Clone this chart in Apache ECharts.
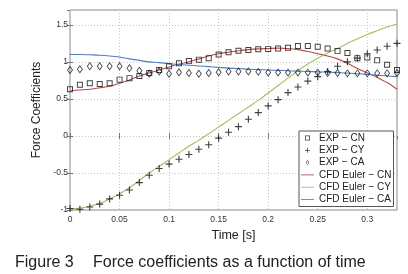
<!DOCTYPE html>
<html>
<head>
<meta charset="utf-8">
<script src="https://cdn.jsdelivr.net/npm/echarts@6/dist/echarts.min.js"></script>
<style>
  html, body { margin: 0; padding: 0; background: #fff; }
  #chart { width: 408px; height: 274px; }
</style>
</head>
<body>
<div id="chart"></div>
<script>
const time = [0, 0.01, 0.02, 0.03, 0.04, 0.05, 0.06, 0.07, 0.08, 0.09,
  0.10, 0.11, 0.12, 0.13, 0.14, 0.15, 0.16, 0.17, 0.18, 0.19,
  0.20, 0.21, 0.22, 0.23, 0.24, 0.25, 0.26, 0.27, 0.28, 0.29,
  0.30, 0.31, 0.32, 0.33];

// experiment
const expCN = [0.63, 0.69, 0.71, 0.70, 0.71, 0.76, 0.78, 0.81, 0.85, 0.89,
  0.94, 0.98, 1.01, 1.03, 1.05, 1.10, 1.13, 1.15, 1.16, 1.17,
  1.175, 1.18, 1.19, 1.215, 1.215, 1.205, 1.18, 1.145, 1.12, 1.05,
  1.06, 1.02, 0.96, 0.89];
const expCY = [-0.98, -0.99, -0.96, -0.92, -0.85, -0.80, -0.73, -0.63, -0.53, -0.44,
  -0.38, -0.315, -0.25, -0.18, -0.12, -0.03, 0.05, 0.125, 0.225, 0.315,
  0.405, 0.49, 0.585, 0.66, 0.74, 0.80, 0.87, 0.94, 1.0, 1.05,
  1.11, 1.16, 1.21, 1.25];
const expCA = [0.89, 0.90, 0.94, 0.94, 0.94, 0.94, 0.915, 0.88, 0.84, 0.87,
  0.84, 0.86, 0.85, 0.84, 0.85, 0.86, 0.87, 0.87, 0.87, 0.865,
  0.855, 0.855, 0.855, 0.855, 0.855, 0.855, 0.85, 0.85, 0.845, 0.845,
  0.845, 0.845, 0.845, 0.85];

// CFD Euler
const cfdCN = [0.61, 0.62, 0.63, 0.65, 0.67, 0.71, 0.755, 0.81, 0.85, 0.89,
  0.93, 0.97, 1.00, 1.04, 1.08, 1.11, 1.13, 1.15, 1.165, 1.175,
  1.18, 1.185, 1.18, 1.165, 1.14, 1.11, 1.08, 1.04, 0.98, 0.91,
  0.85, 0.79, 0.72, 0.63];
const cfdCY = [-0.99, -0.975, -0.95, -0.91, -0.85, -0.78, -0.70, -0.60, -0.50, -0.41,
  -0.32, -0.23, -0.14, -0.06, 0.03, 0.12, 0.21, 0.30, 0.39, 0.48,
  0.58, 0.68, 0.78, 0.88, 0.97, 1.05, 1.12, 1.18, 1.25, 1.31,
  1.37, 1.42, 1.47, 1.51];
const cfdCA = [1.10, 1.10, 1.095, 1.09, 1.08, 1.065, 1.04, 1.02, 1.00, 0.99,
  0.975, 0.965, 0.955, 0.945, 0.935, 0.925, 0.915, 0.91, 0.90, 0.895,
  0.89, 0.885, 0.88, 0.875, 0.87, 0.865, 0.86, 0.855, 0.85, 0.84,
  0.83, 0.82, 0.81, 0.80];

const seriesNames = ['EXP \u2212 CN', 'EXP \u2212 CY', 'EXP \u2212 CA',
  'CFD Euler \u2212 CN', 'CFD Euler \u2212 CY', 'CFD Euler \u2212 CA'];

const pairs = arr => time.map((t, i) => [t, arr[i]]);

// hollow marks drawn as filled frames
const squareSym = 'path://M0,0H10V10H0Z M1.6,1.6V8.4H8.4V1.6Z';
const diamondSym = 'path://M5,0L10,7L5,14L0,7Z M5,2.4L1.7,7L5,11.6L8.3,7Z';
const plusSym = 'path://M4.2,0H5.8V4.2H10V5.8H5.8V10H4.2V5.8H0V4.2H4.2Z';
const lineIcon = 'path://M0,0H20V1.3H0Z';

const tickFmt = v => String(+v.toFixed(2));
const font = 'Arial, "Liberation Sans", sans-serif';

const chart = echarts.init(document.getElementById('chart'));

const axisCommon = {
  type: 'value',
  axisLine: { show: false },
  axisTick: { inside: true, length: 3, lineStyle: { color: '#777' } }
};

chart.setOption({
  animation: false,
  backgroundColor: '#fff',
  textStyle: { fontFamily: font },
  grid: {
    left: 70, right: 11, top: 10, bottom: 64,
    show: true, borderColor: '#8a8a8a', borderWidth: 1
  },
  title: [
    { text: 'Figure 3', left: 10, top: 250,
      textStyle: { fontSize: 16, fontWeight: 'normal', color: '#222', fontFamily: font } },
    { text: 'Force coefficients as a function of time', left: 88, top: 250,
      textStyle: { fontSize: 16, fontWeight: 'normal', color: '#222', fontFamily: font } }
  ],
  legend: {
    orient: 'vertical',
    left: 299, top: 131,
    padding: [1, 2, 1, 2],
    itemGap: 0.3,
    itemWidth: 13, itemHeight: 5,
    backgroundColor: '#fff',
    borderColor: '#555', borderWidth: 1, borderRadius: 0,
    textStyle: { fontSize: 10, lineHeight: 12, color: '#222', fontFamily: font },
    data: [
      { name: seriesNames[0] },
      { name: seriesNames[1] },
      { name: seriesNames[2] },
      { name: seriesNames[3], icon: lineIcon },
      { name: seriesNames[4], icon: lineIcon },
      { name: seriesNames[5], icon: lineIcon }
    ]
  },
  xAxis: [
    Object.assign({}, axisCommon, {
      min: 0, max: 0.33, interval: 0.05,
      name: 'Time [s]', nameLocation: 'middle', nameGap: 18,
      nameTextStyle: { fontSize: 12.5, color: '#222' },
      axisLabel: { fontSize: 8.5, color: '#333', margin: 5, showMaxLabel: false, formatter: tickFmt },
      splitLine: { show: true, lineStyle: { type: [1, 2], color: '#c4c4c4' } }
    }),
    Object.assign({}, axisCommon, {
      min: 0, max: 0.33, interval: 0.05, position: 'top',
      axisLabel: { show: false }, splitLine: { show: false }
    })
  ],
  yAxis: [
    Object.assign({}, axisCommon, {
      min: -1, max: 1.7, interval: 0.5,
      name: 'Force Coefficients', nameLocation: 'middle', nameGap: 22,
      nameTextStyle: { fontSize: 12, color: '#222' },
      axisLabel: { fontSize: 8.5, color: '#333', margin: 2, showMaxLabel: false, formatter: tickFmt },
      splitLine: { show: true, lineStyle: { type: [1, 2], color: '#c4c4c4' } }
    }),
    Object.assign({}, axisCommon, {
      min: -1, max: 1.7, interval: 0.5, position: 'right',
      axisLabel: { show: false }, splitLine: { show: false }
    })
  ],
  series: [
    { name: seriesNames[0], type: 'scatter', data: pairs(expCN), z: 5,
      symbol: squareSym, symbolSize: 6, itemStyle: { color: '#111' } },
    { name: seriesNames[1], type: 'scatter', data: pairs(expCY), z: 5,
      symbol: plusSym, symbolSize: 7, itemStyle: { color: '#111' } },
    { name: seriesNames[2], type: 'scatter', data: pairs(expCA), z: 5,
      symbol: diamondSym, symbolSize: [6, 8.4], itemStyle: { color: '#111' } },
    { name: seriesNames[3], type: 'line', data: pairs(cfdCN), smooth: 0.3, z: 3,
      showSymbol: false, symbol: 'none', color: '#b94a4c', lineStyle: { width: 1.1, color: '#b94a4c' } },
    { name: seriesNames[4], type: 'line', data: pairs(cfdCY), smooth: 0.3, z: 3,
      showSymbol: false, symbol: 'none', color: '#a3c062', lineStyle: { width: 1.1, color: '#a3c062' } },
    { name: seriesNames[5], type: 'line', data: pairs(cfdCA), smooth: 0.3, z: 3,
      showSymbol: false, symbol: 'none', color: '#4f7fbd', lineStyle: { width: 1.1, color: '#4f7fbd' } }
  ]
});
</script>
</body>
</html>
